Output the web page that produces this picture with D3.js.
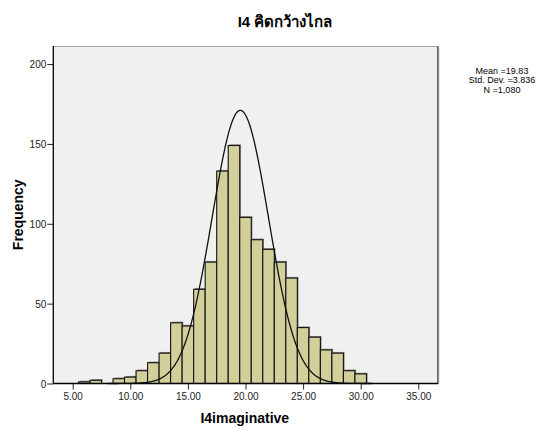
<!DOCTYPE html>
<html>
<head>
<meta charset="utf-8">
<script src="https://cdn.jsdelivr.net/npm/d3@7"></script>
<style>
  html, body { margin: 0; padding: 0; background: #ffffff; }
  svg { display: block; font-family: "Liberation Sans", Arial, "Noto Sans", "DejaVu Sans", sans-serif; }
</style>
</head>
<body>
<svg id="chart" width="546" height="427"></svg>
<script>
// ---- data ----
const binCenters = [6, 7, 8, 9, 10, 11, 12, 13, 14, 15, 16, 17, 18, 19, 20, 21, 22, 23, 24, 25, 26, 27, 28, 29, 30];
const binCounts  = [1, 2, 0, 3, 4, 8, 13, 19, 38, 36, 59, 76, 133, 149, 104, 90, 84, 76, 66, 35, 29, 21, 19, 8, 6];
const binWidth = 1;
const xTicks = [5, 10, 15, 20, 25, 30, 35];
const yTicks = [0, 50, 100, 150, 200];
const statsLines = ["Mean =19.83", "Std. Dev. =3.836", "N =1,080"];
const curveParams = { mean: 19.55, sd: 2.45, peak: 171 };
const titleText = "I4 คิดกว้างไกล";
const xLabel = "I4imaginative";
const yLabel = "Frequency";

// ---- layout ----
const svg = d3.select("#chart");
const pL = 53.3, pR = 437.3, pT = 46, pB = 383.5;

const x = d3.scaleLinear().domain([3.316, 36.65]).range([pL, pR]);
const y = d3.scaleLinear().domain([0, 211.3]).range([pB, pT]);

// plot background
svg.append("rect")
  .attr("x", pL).attr("y", pT)
  .attr("width", pR - pL).attr("height", pB - pT)
  .attr("fill", "#f0f0f0");

// frame: top (light) and right (dark with shadow)
svg.append("line").attr("x1", pL).attr("x2", pR).attr("y1", pT + 0.5).attr("y2", pT + 0.5)
  .attr("stroke", "#a0a0a0").attr("stroke-width", 1);
svg.append("line").attr("x1", pR + 1.5).attr("x2", pR + 1.5).attr("y1", pT + 1).attr("y2", pB)
  .attr("stroke", "#b0b0b0").attr("stroke-width", 1);
svg.append("line").attr("x1", pR + 0.5).attr("x2", pR + 0.5).attr("y1", pT).attr("y2", pB)
  .attr("stroke", "#222").attr("stroke-width", 1);

// bars
const bars = binCenters.map((c, i) => ({ c, v: binCounts[i] })).filter(d => d.v > 0);
const g = svg.append("g");
g.selectAll("rect.shadow").data(bars).join("rect")
  .attr("class", "shadow")
  .attr("x", d => x(d.c - binWidth / 2) + 1.2)
  .attr("y", d => y(d.v) - 1.2)
  .attr("width", d => x(d.c + binWidth / 2) - x(d.c - binWidth / 2))
  .attr("height", d => y(0) - y(d.v))
  .attr("fill", "#8a8a80");
g.selectAll("rect.bar").data(bars).join("rect")
  .attr("class", "bar")
  .attr("x", d => x(d.c - binWidth / 2))
  .attr("y", d => y(d.v))
  .attr("width", d => x(d.c + binWidth / 2) - x(d.c - binWidth / 2))
  .attr("height", d => y(0) - y(d.v))
  .attr("fill", "#d3cf9b")
  .attr("stroke", "#111")
  .attr("stroke-width", 1.1);

// normal curve
const curveXs = d3.range(8, 31.01, 0.05);
const line = d3.line()
  .x(d => x(d))
  .y(d => y(curveParams.peak * Math.exp(-((d - curveParams.mean) ** 2) / (2 * curveParams.sd ** 2))));
svg.append("path").datum(curveXs)
  .attr("d", line)
  .attr("fill", "none")
  .attr("stroke", "#111")
  .attr("stroke-width", 1.3);

// axes
const xAxis = d3.axisBottom(x).tickValues(xTicks).tickFormat(d3.format(".2f")).tickSize(6).tickSizeOuter(0);
const yAxis = d3.axisLeft(y).tickValues(yTicks).tickFormat(d3.format("d")).tickSize(6).tickSizeOuter(0);

const gx = svg.append("g").attr("transform", `translate(0,${pB})`).call(xAxis);
const gy = svg.append("g").attr("transform", `translate(${pL},0)`).call(yAxis);
[gx, gy].forEach(a => {
  a.select(".domain").remove();
  a.selectAll(".tick line").attr("stroke", "#222");
  a.selectAll(".tick text").attr("fill", "#222").attr("font-size", "10px")
    .attr("font-family", "'Liberation Sans', Arial, sans-serif");
});
gx.selectAll(".tick text").attr("dy", "0.9em").attr("y", 7);
gy.selectAll(".tick text").attr("x", -7).attr("dy", "0.35em");

// axis lines
svg.append("line").attr("x1", pL).attr("x2", pL).attr("y1", pT).attr("y2", pB + 0.5)
  .attr("stroke", "#000").attr("stroke-width", 1.3);
svg.append("line").attr("x1", pL).attr("x2", pR + 1).attr("y1", pB).attr("y2", pB)
  .attr("stroke", "#000").attr("stroke-width", 1.3);

// title
svg.append("text").attr("x", 285).attr("y", 27)
  .attr("text-anchor", "middle").attr("font-size", "15px").attr("font-weight", "bold")
  .attr("fill", "#000").text(titleText);

// axis titles
svg.append("text").attr("x", (pL + pR) / 2 - 0.5).attr("y", 422.5)
  .attr("text-anchor", "middle").attr("font-size", "14px").attr("font-weight", "bold")
  .attr("fill", "#000").text(xLabel);
svg.append("text").attr("transform", `translate(23,${(pT + pB) / 2}) rotate(-90)`)
  .attr("text-anchor", "middle").attr("font-size", "14px").attr("font-weight", "bold")
  .attr("fill", "#000").text(yLabel);

// stats
svg.append("g").selectAll("text").data(statsLines).join("text")
  .attr("x", 502).attr("y", (d, i) => 74 + i * 9.3)
  .attr("text-anchor", "middle").attr("font-size", "9px")
  .attr("fill", "#000").text(d => d);
</script>
</body>
</html>
